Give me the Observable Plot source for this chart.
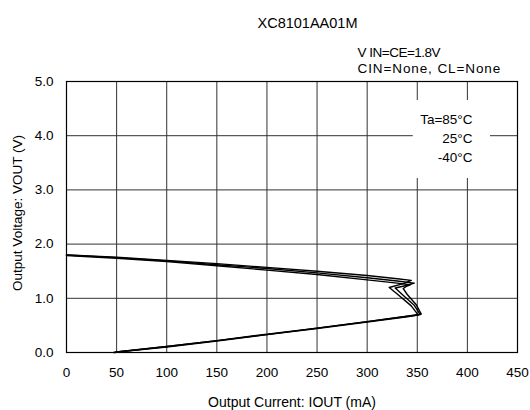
<!DOCTYPE html>
<html>
<head>
<meta charset="utf-8">
<script src="https://cdn.jsdelivr.net/npm/d3@7"></script>
<script src="https://cdn.jsdelivr.net/npm/@observablehq/plot@0.6"></script>
<style>
  html, body { margin: 0; padding: 0; background: #fff; }
  #chart svg { display: block; }
  .cin text { letter-spacing: 0.9px; }
  .vin text { letter-spacing: -0.5px; }
</style>
</head>
<body>
<div id="chart"></div>
<script>
// ---- data ----
const titleText = "XC8101AA01M";
const condLine1 = "V IN=CE=1.8V";
const condLine2 = "CIN=None, CL=None";
const xLabel = "Output Current: IOUT (mA)";
const yLabel = "Output Voltage: VOUT (V)";
const legendLabels = ["Ta=85°C", "25°C", "-40°C"];

const xTicks = [0, 50, 100, 150, 200, 250, 300, 350, 400, 450];
const yTicks = [0, 1, 2, 3, 4, 5];

// 85°C
const i85 = [0, 50, 100, 150, 200, 250, 300, 330, 344, 336, 322, 330, 344, 351, 340, 300, 250, 200, 150, 100, 50, 47];
const v85 = [1.80, 1.76, 1.70, 1.64, 1.57, 1.50, 1.42, 1.36, 1.33, 1.27, 1.20, 1.08, 0.86, 0.69, 0.67, 0.57, 0.45, 0.34, 0.22, 0.11, 0.01, 0.00];
// 25°C
const i25 = [0, 50, 100, 150, 200, 250, 300, 330, 347, 340, 328, 335, 347, 353, 340, 300, 250, 200, 150, 100, 50, 48];
const v25 = [1.80, 1.75, 1.69, 1.62, 1.55, 1.47, 1.38, 1.32, 1.28, 1.24, 1.19, 1.07, 0.87, 0.70, 0.66, 0.56, 0.44, 0.33, 0.21, 0.10, 0.01, 0.00];
// -40°C
const i40 = [0, 50, 100, 150, 200, 250, 300, 330, 343, 339, 336, 340, 349, 354, 340, 300, 250, 200, 150, 100, 50, 49];
const v40 = [1.79, 1.74, 1.68, 1.60, 1.52, 1.44, 1.34, 1.28, 1.25, 1.22, 1.18, 1.07, 0.88, 0.71, 0.67, 0.57, 0.45, 0.33, 0.22, 0.11, 0.01, 0.00];

const seriesNames = ["85", "25", "-40"];
const seriesI = [i85, i25, i40];
const seriesV = [v85, v25, v40];

const rows = [];
seriesNames.forEach((s, k) => {
  seriesI[k].forEach((x, j) => rows.push({series: s, x, y: seriesV[k][j]}));
});

const font = "'Liberation Sans', Arial, sans-serif";

const chart = Plot.plot({
  width: 530,
  height: 410,
  marginLeft: 66,
  marginRight: 13,
  marginTop: 81,
  marginBottom: 58,
  style: {fontFamily: font, fontSize: "13.5px", color: "#000", background: "#fff"},
  x: {domain: [0, 450], ticks: xTicks, label: null},
  y: {domain: [0, 5], ticks: yTicks, label: null},
  marks: [
    Plot.gridX(xTicks, {stroke: "#333", strokeOpacity: 1, strokeWidth: 1}),
    Plot.gridY(yTicks, {stroke: "#333", strokeOpacity: 1, strokeWidth: 1}),
    Plot.rect([0], {x1: 346, x2: 423, y1: 3.21, y2: 4.65, fill: "white"}),
    Plot.line(rows, {x: "x", y: "y", z: "series", stroke: "black", strokeWidth: 1.4, strokeLinejoin: "round"}),
    Plot.axisX(xTicks, {tickSize: 0, tickPadding: 15, fontSize: 13.5, label: null}),
    Plot.axisY(yTicks, {tickSize: 0, tickPadding: 13, fontSize: 13.5, tickFormat: d => d.toFixed(1), label: null}),
    Plot.text([legendLabels.join("\n")], {frameAnchor: "top-right", textAnchor: "end", lineAnchor: "top", dx: -45, dy: 28.5, lineHeight: 1.41, fontSize: 13.5, fill: "black"}),
    Plot.text([titleText], {frameAnchor: "top", dx: 15.5, dy: -58, lineAnchor: "middle", fontSize: 14.5, fill: "black"}),
    Plot.text([condLine1], {frameAnchor: "top-left", textAnchor: "start", dx: 291, dy: -29, lineAnchor: "middle", fontSize: 13.5, fill: "black", className: "vin"}),
    Plot.text([condLine2], {frameAnchor: "top-left", textAnchor: "start", dx: 291, dy: -13, lineAnchor: "middle", fontSize: 13.5, fill: "black", className: "cin"}),
    Plot.text([xLabel], {frameAnchor: "bottom", dy: 50, lineAnchor: "middle", fontSize: 14, fill: "black"}),
    Plot.text([yLabel], {frameAnchor: "left", textAnchor: "middle", rotate: -90, dx: -49, dy: -4, lineAnchor: "middle", fontSize: 13.5, fill: "black"}),
    Plot.frame({stroke: "black", strokeWidth: 1.2})
  ]
});
document.getElementById("chart").appendChild(chart);
</script>
</body>
</html>
